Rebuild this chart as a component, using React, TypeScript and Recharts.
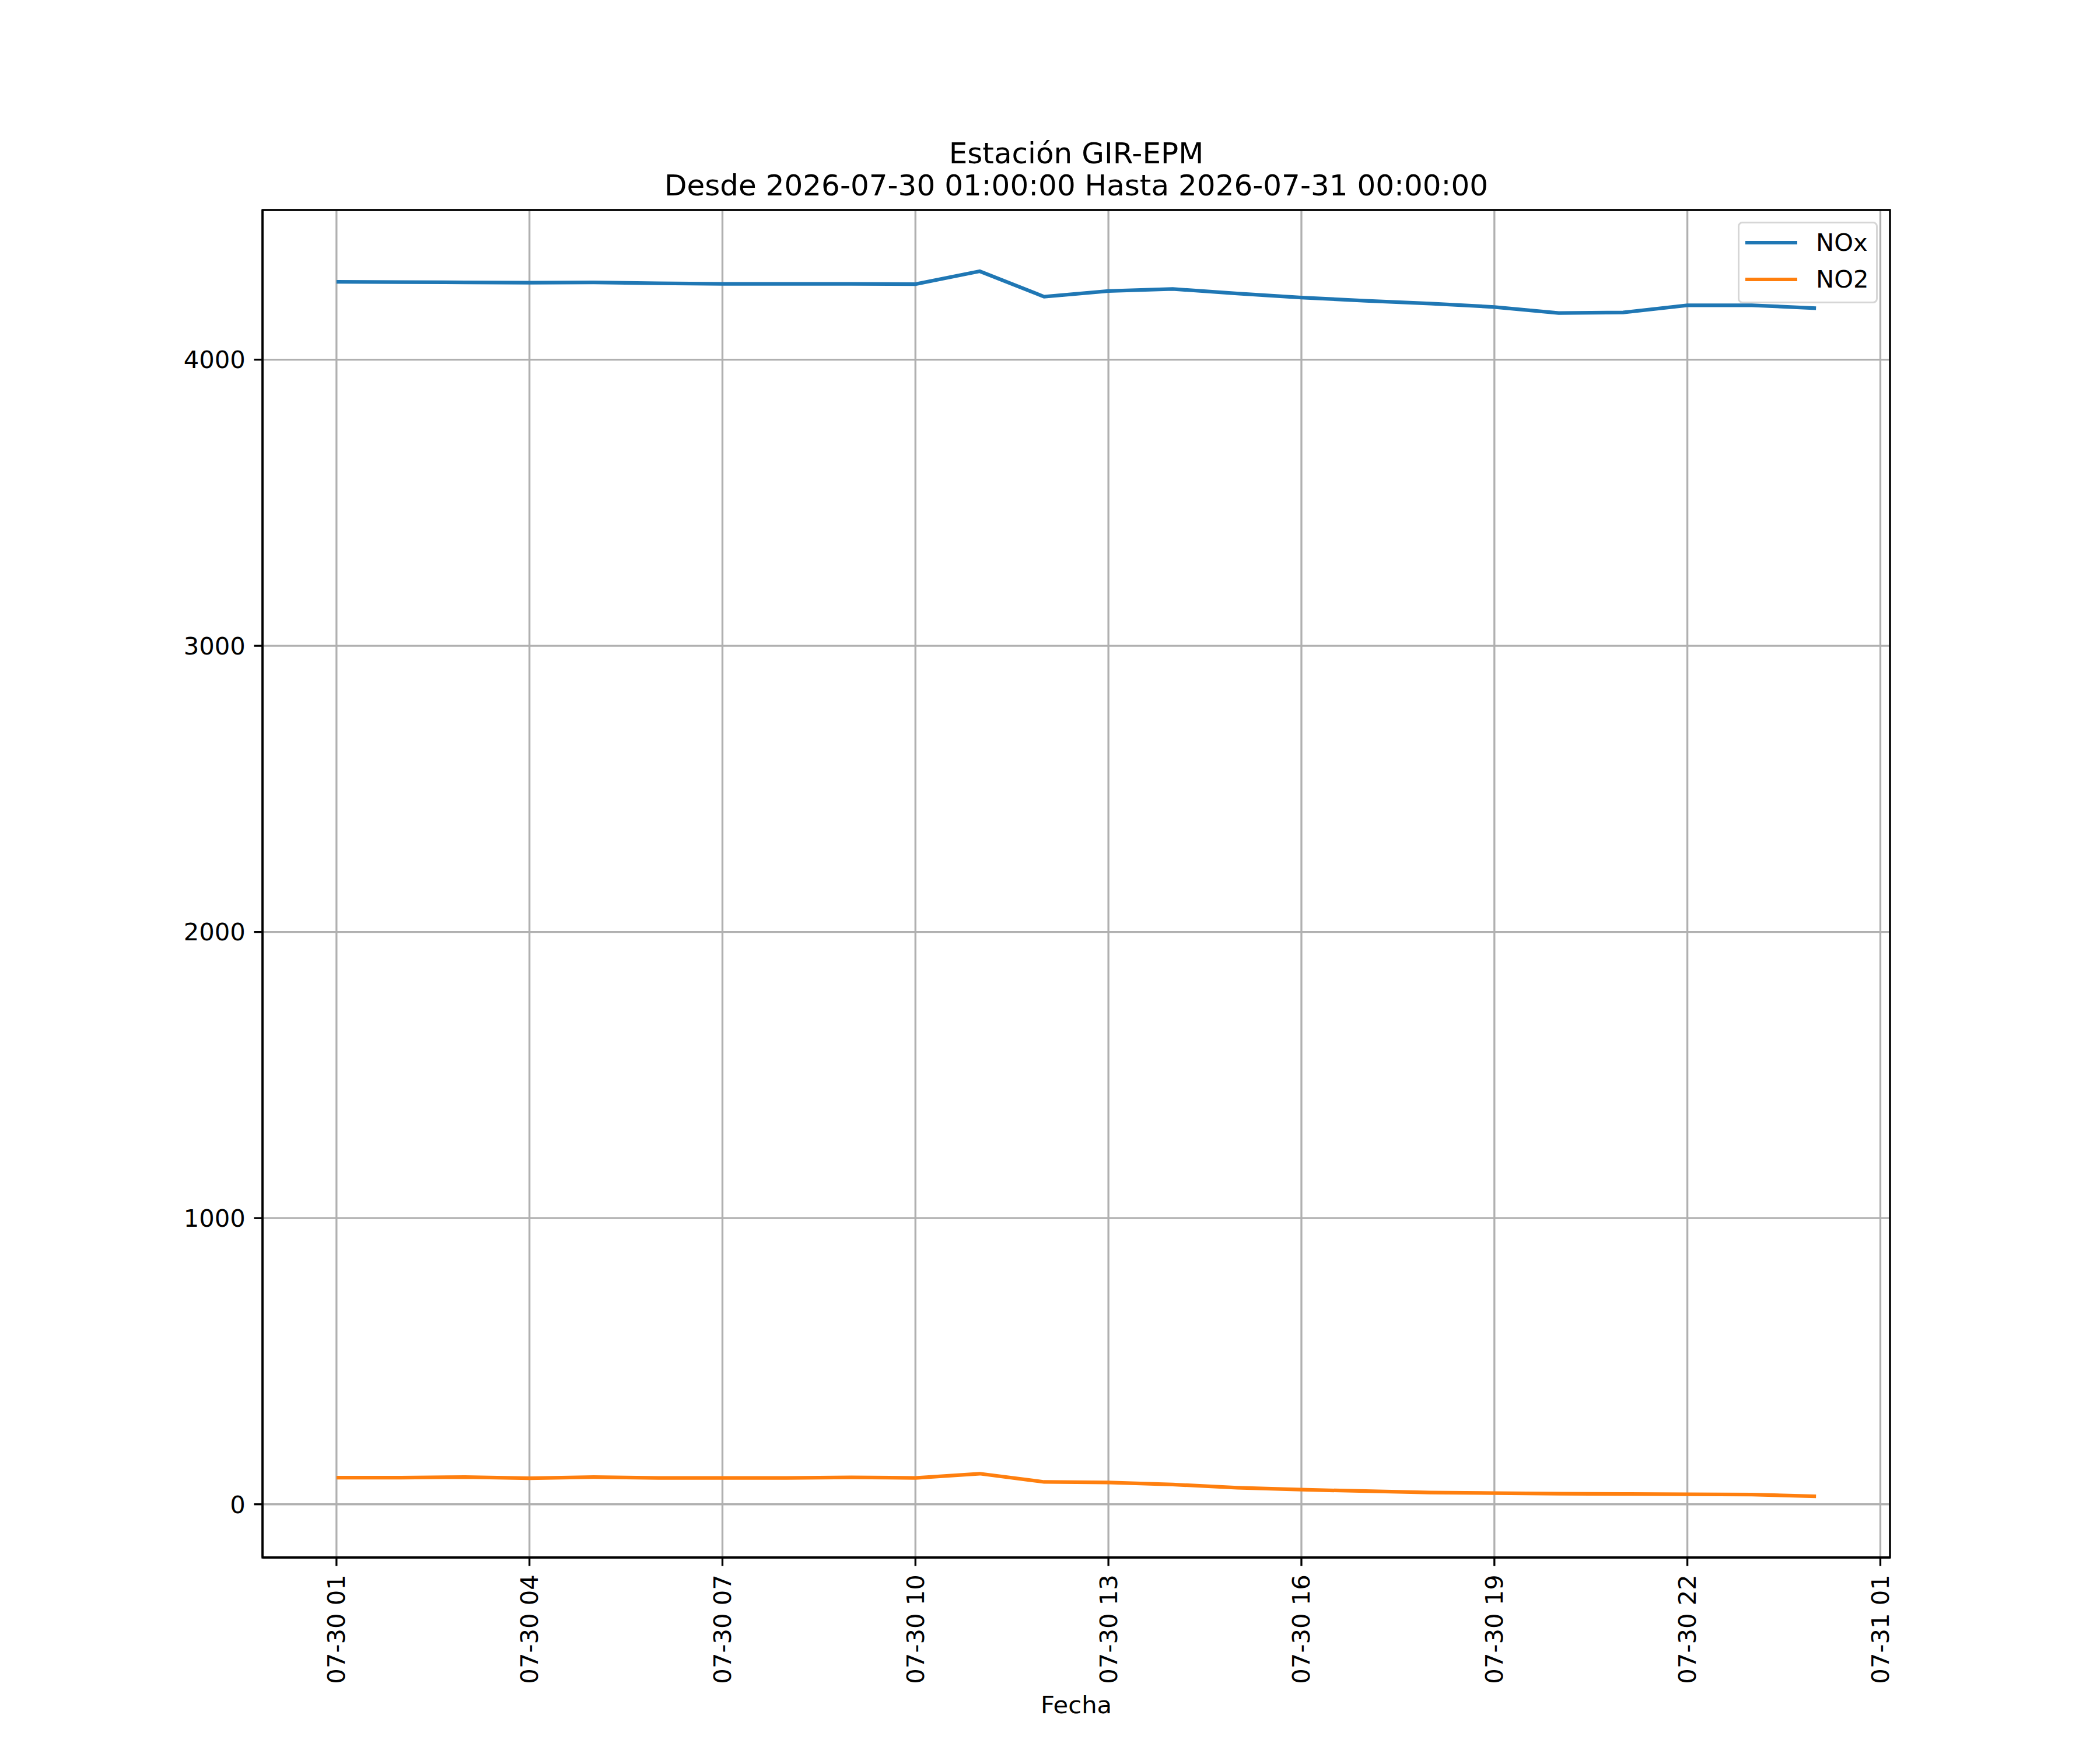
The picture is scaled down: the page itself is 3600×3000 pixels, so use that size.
import { LineChart, Line, XAxis, YAxis, CartesianGrid, ReferenceArea } from "recharts";

const hours = [1, 2, 3, 4, 5, 6, 7, 8, 9, 10, 11, 12, 13, 14, 15, 16, 17, 18, 19, 20, 21, 22, 23, 24];
const noxValues = [
  4272, 4271, 4270, 4269, 4270, 4267, 4265, 4265, 4265, 4264, 4309, 4220,
  4240, 4247, 4231, 4217, 4206, 4196, 4184, 4163, 4165, 4190, 4190, 4180,
];
const no2Values = [
  93, 93, 95, 91, 95, 92, 92, 92, 94, 92, 107, 78,
  76, 69, 58, 51, 46, 41, 39, 37, 36, 35, 34, 28,
];
const xTicks = [1, 4, 7, 10, 13, 16, 19, 22, 25];
const xTickLabels = [
  "07-30 01", "07-30 04", "07-30 07", "07-30 10", "07-30 13",
  "07-30 16", "07-30 19", "07-30 22", "07-31 01",
];
const yTicks = [0, 1000, 2000, 3000, 4000];
const seriesNames = ["NOx", "NO2"];
const seriesColors = ["#1f77b4", "#ff7f0e"];

const data = hours.map((h, i) => ({ hour: h, nox: noxValues[i], no2: no2Values[i] }));

const X_DOMAIN = [-0.15, 25.15];
const Y_DOMAIN = [-186, 4523];

const FONT = "'DejaVu Sans', sans-serif";
const TICK_FONT = 41.7;
const LW = 3.33;

const XTick = (props: any) => {
  const { x, y, payload } = props;
  const label = xTickLabels[xTicks.indexOf(payload.value)] ?? "";
  return (
    <text
      x={x}
      y={y}
      transform={`rotate(-90, ${x}, ${y})`}
      textAnchor="end"
      dominantBaseline="central"
      fontFamily={FONT}
      fontSize={TICK_FONT}
      fill="#000"
    >
      {label}
    </text>
  );
};

const App = () => {
  return (
    <div style={{ position: "absolute", left: 0, top: 0, width: 3600, height: 3000, background: "#fff", fontFamily: FONT }}>
      <LineChart
        width={3600}
        height={3000}
        data={data}
        margin={{ top: 360, right: 360, left: 0, bottom: 0 }}
      >
        <CartesianGrid stroke="#b0b0b0" strokeWidth={LW} />
        <XAxis
          dataKey="hour"
          type="number"
          domain={X_DOMAIN}
          allowDataOverflow
          ticks={xTicks}
          interval={0}
          height={330}
          tickSize={14.6}
          tickMargin={14.6}
          tick={<XTick />}
          tickLine={{ stroke: "#000", strokeWidth: LW }}
          axisLine={{ stroke: "#000", strokeWidth: LW }}
        />
        <YAxis
          type="number"
          domain={Y_DOMAIN}
          allowDataOverflow
          ticks={yTicks}
          interval={0}
          width={450}
          tickSize={14.6}
          tickMargin={14.6}
          tick={{ fill: "#000", fontSize: TICK_FONT, fontFamily: FONT }}
          tickLine={{ stroke: "#000", strokeWidth: LW }}
          axisLine={{ stroke: "#000", strokeWidth: LW }}
        />
        <Line
          dataKey="nox"
          name={seriesNames[0]}
          stroke={seriesColors[0]}
          strokeWidth={6.25}
          dot={false}
          isAnimationActive={false}
        />
        <Line
          dataKey="no2"
          name={seriesNames[1]}
          stroke={seriesColors[1]}
          strokeWidth={6.25}
          dot={false}
          isAnimationActive={false}
        />
        <ReferenceArea
          x1={X_DOMAIN[0]}
          x2={X_DOMAIN[1]}
          y1={Y_DOMAIN[0]}
          y2={Y_DOMAIN[1]}
          fill="none"
          fillOpacity={0}
          stroke="#000"
          strokeWidth={LW}
          strokeOpacity={1}
          ifOverflow="visible"
        />
      </LineChart>

      <div style={{ position: "absolute", left: 450, width: 2790, top: 238, textAlign: "center", fontSize: 50, lineHeight: "50px", whiteSpace: "nowrap" }}>
        Estación GIR-EPM
      </div>
      <div style={{ position: "absolute", left: 450, width: 2790, top: 293, textAlign: "center", fontSize: 50, lineHeight: "50px", whiteSpace: "nowrap" }}>
        Desde 2026-07-30 01:00:00 Hasta 2026-07-31 00:00:00
      </div>
      <div style={{ position: "absolute", left: 450, width: 2790, top: 2902, textAlign: "center", fontSize: TICK_FONT, lineHeight: `${TICK_FONT}px` }}>
        Fecha
      </div>

      <div
        style={{
          position: "absolute",
          left: 2979,
          top: 380,
          width: 240,
          height: 140,
          boxSizing: "border-box",
          border: "3.3px solid #d6d6d6",
          borderRadius: 8,
          background: "rgba(255,255,255,0.8)",
        }}
      >
        {seriesNames.map((name, i) => (
          <div key={name} style={{ position: "absolute", left: 0, top: 36 + i * 63 - 3.3 - 21, height: 42, width: 236, display: "flex", alignItems: "center" }}>
            <div style={{ marginLeft: 10, width: 89, height: 6.25, background: seriesColors[i] }} />
            <div style={{ marginLeft: 32, fontSize: TICK_FONT, lineHeight: "42px" }}>{name}</div>
          </div>
        ))}
      </div>
    </div>
  );
};

export default App;
